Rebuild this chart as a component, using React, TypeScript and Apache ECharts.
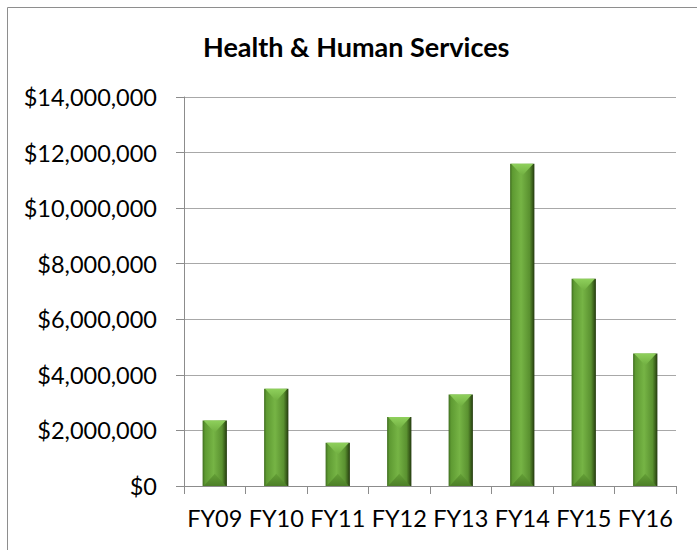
import React, { useEffect, useRef } from "react";
import * as echarts from "echarts";

const categories = ["FY09", "FY10", "FY11", "FY12", "FY13", "FY14", "FY15", "FY16"];
const values = [2360000, 3500000, 1560000, 2480000, 3290000, 11600000, 7460000, 4770000];
const yTicks = { min: 0, max: 14000000, interval: 2000000 };
const titleText = "Health & Human Services";

const FONT = "Lato, 'Open Sans', sans-serif";

export default function App() {
  const ref = useRef<HTMLDivElement>(null);
  useEffect(() => {
    if (!ref.current) return;
    const chart = echarts.init(ref.current, null, { renderer: "svg" });
    const option: any = {
      animation: false,
      backgroundColor: "#ffffff",
      title: {
        text: titleText,
        left: 198,
        top: 28,
        textStyle: { fontFamily: FONT, fontSize: 27, fontWeight: "bold", color: "#000" },
      },
      graphic: [
        {
          type: "rect",
          shape: { x: 7.5, y: 7.5, width: 900, height: 900 },
          style: { fill: "none", stroke: "#8e8e8e", lineWidth: 1 },
          silent: true,
        },
      ],
      grid: { left: 184, right: 21, top: 97, bottom: 64, containLabel: false },
      xAxis: {
        type: "category",
        data: categories,
        axisLine: { show: true, lineStyle: { color: "#8c8c8c", width: 1 } },
        axisTick: { show: true, length: 8, lineStyle: { color: "#8c8c8c" } },
        axisLabel: { fontFamily: FONT, fontSize: 23.5, color: "#000", margin: 20, interval: 0 },
        splitLine: { show: false },
      },
      yAxis: {
        type: "value",
        min: yTicks.min,
        max: yTicks.max,
        interval: yTicks.interval,
        axisLine: { show: true, lineStyle: { color: "#8c8c8c", width: 1 } },
        axisTick: { show: true, length: 8, lineStyle: { color: "#8c8c8c" } },
        axisLabel: {
          fontFamily: FONT,
          fontSize: 23.5,
          color: "#000",
          margin: 27,
          formatter: (v: number) => "$" + v.toLocaleString("en-US"),
        },
        splitLine: { show: true, lineStyle: { color: "#a8a8a8", width: 1 } },
      },
      series: [
        {
          type: "custom",
          data: values.map((v, i) => [i, v]),
          encode: { x: 0, y: 1 },
          renderItem: (params: any, api: any) => {
            const idx = api.value(0);
            const val = api.value(1);
            const top = api.coord([idx, val]);
            const base = api.coord([idx, 0]);
            const bw = api.size([1, 0])[0] * 0.395;
            const L = top[0] - bw / 2;
            const R = top[0] + bw / 2;
            const T = top[1];
            const B = base[1];
            const h = Math.min(bw / 2, (B - T) / 2);
            const C = top[0];
            return {
              type: "group",
              children: [
                {
                  type: "rect",
                  shape: { x: L, y: T, width: bw, height: B - T },
                  style: {
                    fill: new echarts.graphic.LinearGradient(0, 0, 1, 0, [
                      { offset: 0, color: "#3f6d1f" },
                      { offset: 0.1, color: "#5e9a32" },
                      { offset: 0.45, color: "#76b445" },
                      { offset: 0.8, color: "#5a9130" },
                      { offset: 0.92, color: "#3a5e1b" },
                      { offset: 1, color: "#22380e" },
                    ]),
                  },
                },
                {
                  type: "polygon",
                  shape: { points: [[L + 1, T], [R - 1, T], [C, T + h]] },
                  style: {
                    fill: new echarts.graphic.LinearGradient(0, 0, 0, 1, [
                      { offset: 0, color: "#8fd05c" },
                      { offset: 1, color: "#70ae40" },
                    ]),
                  },
                },
                {
                  type: "polygon",
                  shape: { points: [[L + 1, B], [R - 1, B], [C, B - h]] },
                  style: {
                    fill: new echarts.graphic.LinearGradient(0, 1, 0, 0, [
                      { offset: 0, color: "#4d7f28" },
                      { offset: 1, color: "#64a036" },
                    ]),
                  },
                },
              ],
            };
          },
        },
      ],
    };
    chart.setOption(option);
    return () => chart.dispose();
  }, []);
  return (
    <div
      ref={ref}
      style={{ position: "fixed", left: 0, top: 0, width: 697, height: 550 }}
    />
  );
}
